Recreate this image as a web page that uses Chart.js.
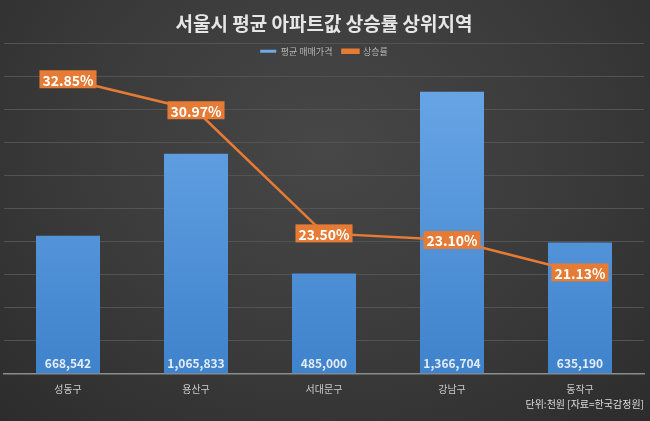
<!DOCTYPE html>
<html>
<head>
<meta charset="utf-8">
<script src="https://cdn.jsdelivr.net/npm/chart.js@4"></script>
<style>
  html, body { margin: 0; padding: 0; }
  body {
    width: 650px; height: 421px;
    background: radial-gradient(ellipse at 50% 35%, #474747 0%, #3a3a3a 55%, #2c2c2c 100%);
  }
  #wrap { width: 650px; height: 421px; }
</style>
</head>
<body>
<div id="wrap"><canvas id="rankChart"></canvas></div>
<script>
const districts = ['성동구', '용산구', '서대문구', '강남구', '동작구'];
const avgPrice = [668542, 1065833, 485000, 1366704, 635190];
const riseRate = [32.85, 30.97, 23.50, 23.10, 21.13];

const KFONT = "'Noto Sans CJK KR', 'Noto Sans', sans-serif";

function barGradient(context) {
  const area = context.chart.chartArea;
  if (!area) return '#5b9bd5';
  const g = context.chart.ctx.createLinearGradient(0, area.top, 0, area.bottom);
  g.addColorStop(0, '#6eaaea');
  g.addColorStop(1, '#3f83cc');
  return g;
}

// legend sits over the plot top like in the original, so it takes no layout height
const overlayLegend = {
  id: 'overlayLegend',
  beforeLayout(chart) {
    const lg = chart.legend;
    if (lg && !lg._patched) {
      const fit = lg.fit;
      lg.fit = function () {
        fit.call(this);
        this._realHeight = this.height;
        this.height = 0;
      };
      lg._patched = true;
    }
  },
  afterLayout(chart) {
    const lg = chart.legend;
    if (lg && lg._realHeight) {
      lg.top -= 7;
      lg.height = lg._realHeight;
      lg.bottom = lg.top + lg.height;
    }
  }
};

// value labels: white numbers at bar bottoms, orange boxes on the line
const valueLabels = {
  id: 'valueLabels',
  afterDatasetsDraw(chart) {
    const ctx = chart.ctx;
    const bottom = chart.chartArea.bottom;
    ctx.save();
    ctx.textAlign = 'center';
    ctx.textBaseline = 'middle';

    const barMeta = chart.getDatasetMeta(0);
    ctx.font = 'bold 12px ' + KFONT;
    ctx.fillStyle = '#e4ecf6';
    barMeta.data.forEach((bar, i) => {
      ctx.fillText(avgPrice[i].toLocaleString('en-US'), bar.x, bottom - 10);
    });

    const lineMeta = chart.getDatasetMeta(1);
    ctx.font = 'bold 14px ' + KFONT;
    lineMeta.data.forEach((pt, i) => {
      const txt = riseRate[i].toFixed(2) + '%';
      const w = ctx.measureText(txt).width + 6;
      const h = 18;
      ctx.fillStyle = '#e57b34';
      ctx.fillRect(pt.x - w / 2, pt.y - h / 2, w, h);
      ctx.fillStyle = '#ffffff';
      ctx.fillText(txt, pt.x, pt.y + 1);
    });
    ctx.restore();
  }
};

new Chart(document.getElementById('rankChart'), {
  data: {
    labels: districts,
    datasets: [
      {
        type: 'bar',
        label: '평균 매매가격',
        data: avgPrice,
        yAxisID: 'y',
        backgroundColor: barGradient,
        barPercentage: 0.5,
        categoryPercentage: 1.0,
        order: 2
      },
      {
        type: 'line',
        label: '상승률',
        data: riseRate,
        yAxisID: 'y1',
        borderColor: '#e57b34',
        backgroundColor: '#e57b34',
        borderWidth: 2.5,
        pointRadius: 0,
        tension: 0,
        order: 1
      }
    ]
  },
  options: {
    responsive: true,
    maintainAspectRatio: false,
    animation: false,
    layout: { padding: { left: 4, right: 6, bottom: 0 } },
    plugins: {
      title: {
        display: true,
        text: '서울시 평균 아파트값 상승률 상위지역',
        color: '#e6e6e6',
        font: { family: KFONT, size: 19, weight: 'bold' },
        padding: { top: 12, bottom: 9 }
      },
      subtitle: {
        display: true,
        position: 'bottom',
        align: 'end',
        text: '단위:천원 [자료=한국감정원]',
        color: '#dddddd',
        font: { family: KFONT, size: 10 },
        padding: { top: -7.5, bottom: 11 }
      },
      legend: {
        position: 'top',
        align: 'center',
        labels: {
          color: '#b4b4b4',
          font: { family: KFONT, size: 9 },
          boxWidth: 16,
          boxHeight: 3,
          padding: 10,
          sort: (a, b) => a.datasetIndex - b.datasetIndex
        }
      },
      tooltip: { enabled: false }
    },
    scales: {
      x: {
        grid: { display: false, drawTicks: false },
        border: { display: true, color: '#8c8c8c', width: 1.5 },
        ticks: { color: '#cacaca', font: { family: KFONT, size: 10 }, padding: 10 }
      },
      y: {
        display: false,
        min: 0,
        max: 1600000
      },
      y1: {
        position: 'right',
        min: 15,
        max: 35,
        ticks: { display: false, stepSize: 2 },
        grid: { color: '#535353', lineWidth: 1, drawTicks: false },
        border: { display: false }
      }
    }
  },
  plugins: [overlayLegend, valueLabels]
});
</script>
</body>
</html>
